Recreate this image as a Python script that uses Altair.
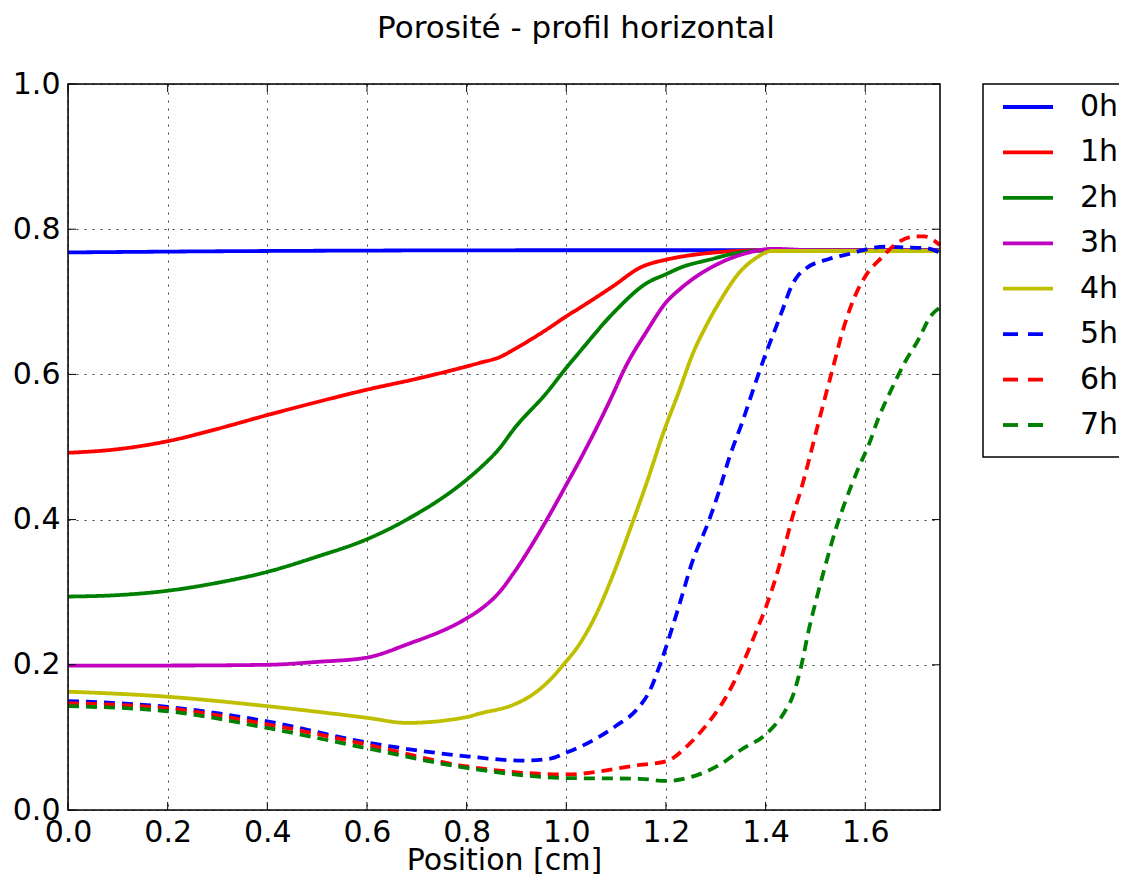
import altair as alt
import pandas as pd

# ---------------- data ----------------
series_names = ["0h", "1h", "2h", "3h", "4h", "5h", "6h", "7h"]
series_colors = ["#0000ff", "#ff0000", "#008000", "#bf00bf", "#bfbf00",
                 "#0000ff", "#ff0000", "#008000"]
series_dashes = [[1, 0], [1, 0], [1, 0], [1, 0], [1, 0],
                 [11, 7], [11, 7], [11, 7]]
legend_dashes = [[1, 0], [1, 0], [1, 0], [1, 0], [1, 0],
                 [15, 10], [15, 10], [15, 10]]

x_0h = [0.0, 0.4, 1.0, 1.4, 1.75]
y_0h = [0.768, 0.770, 0.771, 0.771, 0.770]

x_1h = [0.0, 0.1, 0.2, 0.3, 0.4, 0.5, 0.6, 0.7, 0.8, 0.827, 0.867, 0.894,
        0.961, 1.0, 1.028, 1.095, 1.148, 1.2, 1.229, 1.3, 1.4, 1.75]
y_1h = [0.492, 0.497, 0.508, 0.525, 0.544, 0.562, 0.579, 0.594, 0.611, 0.616,
        0.624, 0.634, 0.662, 0.680, 0.692, 0.722, 0.747, 0.758, 0.762, 0.768,
        0.771, 0.771]

x_2h = [0.0, 0.1, 0.2, 0.3, 0.4, 0.5, 0.6, 0.68, 0.8, 0.827, 0.867, 0.894,
        0.961, 1.0, 1.028, 1.095, 1.162, 1.2, 1.229, 1.287, 1.36, 1.42, 1.75]
y_2h = [0.294, 0.296, 0.302, 0.313, 0.328, 0.349, 0.373, 0.400, 0.455, 0.471,
        0.499, 0.524, 0.575, 0.609, 0.632, 0.685, 0.726, 0.738, 0.747, 0.758,
        0.769, 0.771, 0.771]

x_3h = [0.0, 0.2, 0.4, 0.5, 0.6, 0.68, 0.8, 0.827, 0.867, 0.894, 0.961, 1.0,
        1.028, 1.095, 1.115, 1.162, 1.2, 1.229, 1.253, 1.313, 1.38, 1.413,
        1.5, 1.75]
y_3h = [0.199, 0.199, 0.200, 0.204, 0.210, 0.228, 0.264, 0.276, 0.301, 0.326,
        0.400, 0.448, 0.483, 0.575, 0.605, 0.660, 0.699, 0.718, 0.731, 0.755,
        0.770, 0.773, 0.771, 0.771]

x_4h = [0.0, 0.2, 0.4, 0.6, 0.68, 0.8, 0.827, 0.894, 0.928, 0.961, 0.994,
        1.028, 1.061, 1.095, 1.135, 1.162, 1.195, 1.227, 1.253, 1.28, 1.313,
        1.347, 1.38, 1.413, 1.75]
y_4h = [0.163, 0.156, 0.143, 0.127, 0.120, 0.128, 0.133, 0.145, 0.157, 0.175,
        0.200, 0.230, 0.271, 0.326, 0.400, 0.452, 0.520, 0.578, 0.627, 0.666,
        0.706, 0.740, 0.760, 0.770, 0.770]

x_5h = [0.0, 0.2, 0.4, 0.6, 0.8, 0.913, 0.97, 1.0, 1.054, 1.1, 1.141, 1.168,
        1.188, 1.2, 1.227, 1.253, 1.287, 1.307, 1.327, 1.353, 1.383, 1.401,
        1.418, 1.434, 1.451, 1.465, 1.481, 1.527, 1.574, 1.6, 1.64, 1.679,
        1.72, 1.75]
y_5h = [0.150, 0.142, 0.122, 0.093, 0.074, 0.068, 0.071, 0.079, 0.096, 0.116,
        0.138, 0.165, 0.200, 0.224, 0.283, 0.342, 0.400, 0.440, 0.485, 0.534,
        0.595, 0.630, 0.660, 0.689, 0.720, 0.736, 0.746, 0.759, 0.767, 0.772,
        0.776, 0.775, 0.774, 0.768]

x_6h = [0.0, 0.2, 0.4, 0.6, 0.8, 1.0, 1.147, 1.2, 1.247, 1.28, 1.32, 1.353,
        1.38, 1.401, 1.427, 1.441, 1.454, 1.471, 1.487, 1.504, 1.52, 1.534,
        1.554, 1.574, 1.6, 1.633, 1.666, 1.699, 1.719, 1.739, 1.75]
y_6h = [0.147, 0.140, 0.118, 0.090, 0.060, 0.049, 0.062, 0.067, 0.091, 0.116,
        0.155, 0.200, 0.244, 0.280, 0.335, 0.370, 0.404, 0.441, 0.482, 0.528,
        0.570, 0.606, 0.658, 0.699, 0.735, 0.761, 0.782, 0.790, 0.790, 0.784,
        0.778]

x_7h = [0.0, 0.2, 0.4, 0.6, 0.8, 1.0, 1.147, 1.2, 1.253, 1.307, 1.353, 1.4,
        1.438, 1.454, 1.471, 1.487, 1.504, 1.52, 1.54, 1.56, 1.587, 1.607,
        1.626, 1.653, 1.679, 1.706, 1.732, 1.75]
y_7h = [0.143, 0.136, 0.113, 0.085, 0.058, 0.044, 0.043, 0.040, 0.046, 0.062,
        0.084, 0.104, 0.135, 0.156, 0.197, 0.249, 0.296, 0.337, 0.385, 0.425,
        0.472, 0.503, 0.539, 0.580, 0.616, 0.647, 0.681, 0.692]

x_ticks = [0.0, 0.2, 0.4, 0.6, 0.8, 1.0, 1.2, 1.4, 1.6]
y_ticks = [0.0, 0.2, 0.4, 0.6, 0.8, 1.0]

all_x = [x_0h, x_1h, x_2h, x_3h, x_4h, x_5h, x_6h, x_7h]
all_y = [y_0h, y_1h, y_2h, y_3h, y_4h, y_5h, y_6h, y_7h]

rows = []
for name, xs, ys in zip(series_names, all_x, all_y):
    for xv, yv in zip(xs, ys):
        rows.append({"series": name, "position": xv, "porosite": yv})
df = pd.DataFrame(rows)

# ---------------- chart ----------------
W, H = 872, 726
FONT = "DejaVu Sans"

x_scale = alt.Scale(domain=[0, 1.75], nice=False, zero=False)
y_scale = alt.Scale(domain=[0, 1], nice=False)
color_scale = alt.Scale(domain=series_names, range=series_colors)

grid_kw = dict(grid=True, gridColor="black", gridDash=[2, 6], gridOpacity=0.75,
               ticks=False, domain=False, labelFontSize=30, labelFont=FONT,
               labelColor="black", labelFlush=False, labelOverlap=False)

x_axis = alt.Axis(values=x_ticks, format=".1f", title="Position [cm]",
                  titleFontSize=30, titleFont=FONT, titleFontWeight="normal",
                  titleColor="black", titlePadding=-2, labelPadding=7, **grid_kw)
y_axis = alt.Axis(values=y_ticks, format=".1f", title=None, labelPadding=8,
                  **grid_kw)

lines = alt.Chart(df).mark_line(strokeWidth=3.8, interpolate="monotone").encode(
    x=alt.X("position:Q", scale=x_scale, axis=x_axis),
    y=alt.Y("porosite:Q", scale=y_scale, axis=y_axis),
    color=alt.Color("series:N", scale=color_scale, legend=None),
    strokeDash=alt.StrokeDash("series:N",
                              scale=alt.Scale(domain=series_names, range=series_dashes),
                              legend=None),
    detail="series:N",
    order=alt.Order("position:Q"),
)

# plot frame and inward ticks, positioned through the same scales
frame = alt.Chart(pd.DataFrame({"k": [0]})).mark_rect(
    fill=None, stroke="black", strokeWidth=1.5).encode(
    x=alt.value(0), x2=alt.value(W), y=alt.value(0), y2=alt.value(H))

xt_df = pd.DataFrame({"position": x_ticks})
yt_df = pd.DataFrame({"porosite": y_ticks})

ticks_bottom = alt.Chart(xt_df).mark_rule(color="black", strokeWidth=1).encode(
    x=alt.X("position:Q", scale=x_scale, axis=x_axis), y=alt.value(H), y2=alt.value(H - 8))
ticks_top = alt.Chart(xt_df).mark_rule(color="black", strokeWidth=1).encode(
    x=alt.X("position:Q", scale=x_scale, axis=x_axis), y=alt.value(0), y2=alt.value(8))
ticks_left = alt.Chart(yt_df).mark_rule(color="black", strokeWidth=1).encode(
    y=alt.Y("porosite:Q", scale=y_scale, axis=y_axis), x=alt.value(0), x2=alt.value(8))
ticks_right = alt.Chart(yt_df).mark_rule(color="black", strokeWidth=1).encode(
    y=alt.Y("porosite:Q", scale=y_scale, axis=y_axis), x=alt.value(W), x2=alt.value(W - 8))

plot = alt.layer(lines, ticks_bottom, ticks_top, ticks_left, ticks_right, frame)

# ---- legend (entries placed with a point scale) ----
leg_df = pd.DataFrame({"entry": series_names})
box_df = pd.DataFrame({"k": [0]})
leg_y = alt.Y("entry:N", axis=None,
              scale=alt.Scale(type="point", domain=series_names, range=[23, 341],
                              padding=0))

leg_box = alt.Chart(box_df).mark_rect(fill="white", stroke="black", strokeWidth=1.5).encode(
    x=alt.value(915), x2=alt.value(1110), y=alt.value(0), y2=alt.value(373))
leg_lines = alt.Chart(leg_df).mark_rule(strokeWidth=3.8).encode(
    x=alt.value(935), x2=alt.value(985), y=leg_y,
    color=alt.Color("entry:N", scale=color_scale, legend=None),
    strokeDash=alt.StrokeDash("entry:N",
                              scale=alt.Scale(domain=series_names, range=legend_dashes),
                              legend=None),
)
leg_text = alt.Chart(leg_df).mark_text(align="left", baseline="middle", fontSize=30,
                                       font=FONT, color="black").encode(
    x=alt.value(1012), y=leg_y, text="entry:N")

legend_layer = alt.layer(leg_box, leg_lines, leg_text)

chart = alt.layer(plot, legend_layer).resolve_scale(
    y="independent", strokeDash="independent"
).properties(
    width=W, height=H,
    title=alt.TitleParams("Porosité - profil horizontal", fontSize=31, font=FONT,
                          fontWeight="normal", color="black", anchor="middle",
                          dx=72, baseline="middle", offset=9),
    autosize=alt.AutoSizeParams(type="none"),
    padding={"left": 60, "top": 76, "right": 179, "bottom": 66},
).configure_view(stroke=None).configure(background="white")

chart.save("out.html", embed_options={"renderer": "svg", "actions": False})
